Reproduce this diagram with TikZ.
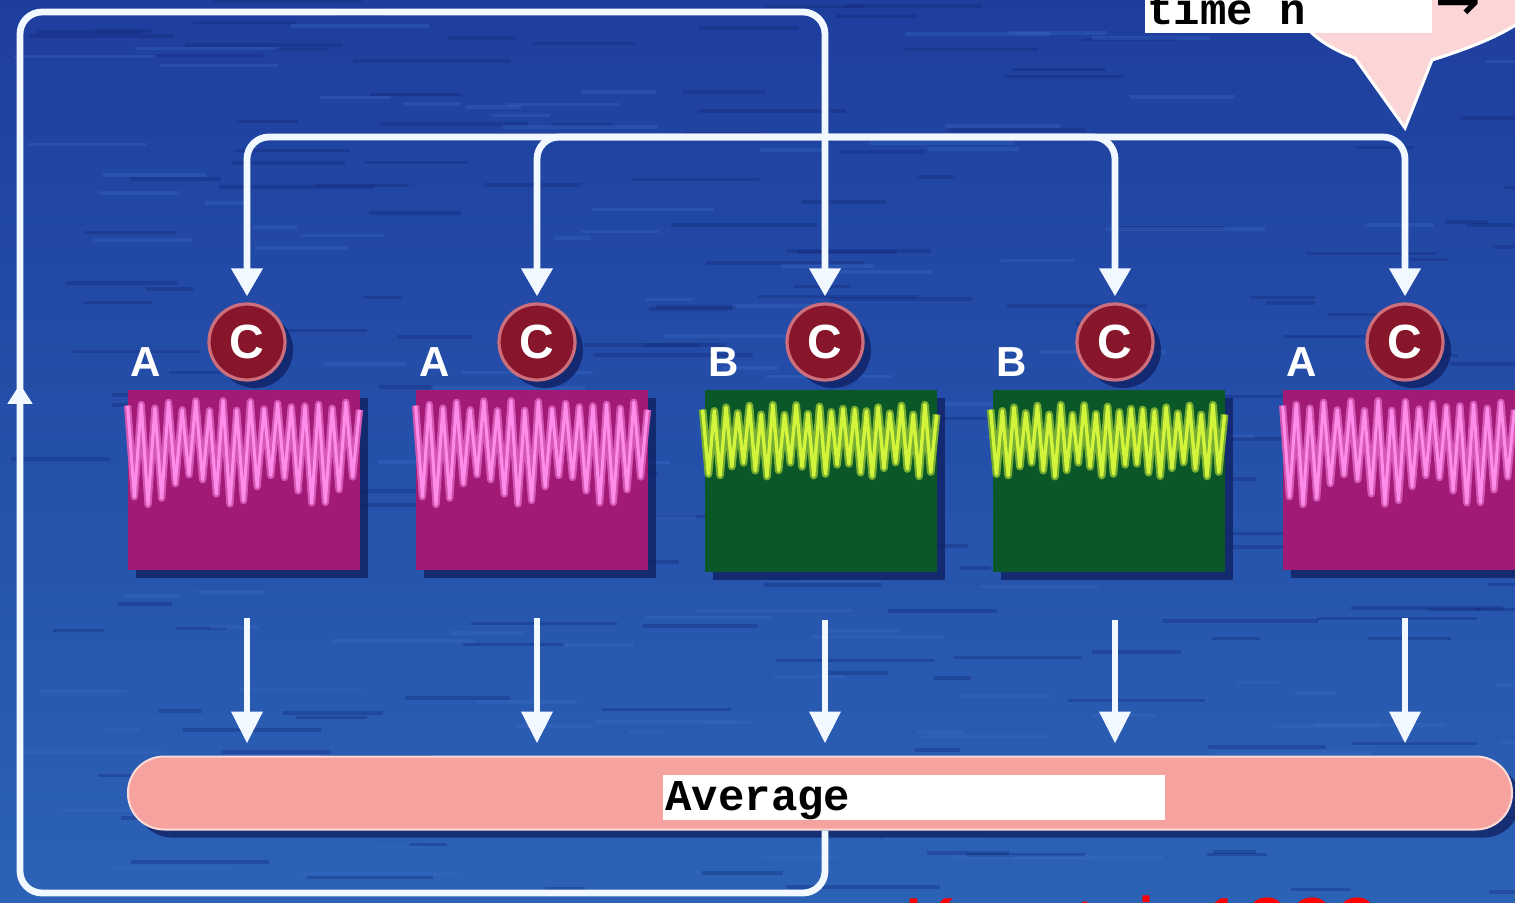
\documentclass[tikz,border=0pt]{standalone}
\usepackage{fontspec}
\setmainfont{Liberation Sans}
\newfontfamily\monob{Liberation Mono}
\newfontfamily\djv{DejaVu Sans}
\usetikzlibrary{arrows.meta,shadows}
\definecolor{bgtop}{RGB}{30,62,158}
\definecolor{bgbot}{RGB}{44,98,182}
\definecolor{bgdark}{RGB}{18,40,120}
\definecolor{bglight}{RGB}{60,110,200}
\definecolor{magbox}{RGB}{160,26,118}
\definecolor{grnbox}{RGB}{10,88,40}
\definecolor{pinkwave}{RGB}{255,140,232}
\definecolor{grnwave}{RGB}{210,245,60}
\definecolor{cred}{RGB}{135,22,42}
\definecolor{crim}{RGB}{205,110,125}
\definecolor{avgpink}{RGB}{246,162,158}
\definecolor{bubble}{RGB}{252,214,214}
\definecolor{wline}{RGB}{242,248,255}
\definecolor{shadowc}{RGB}{14,30,95}
\newcommand{\pinkwave}{%
  \draw[pinkwave!55!magbox, line width=3.6pt, line join=round] plot[samples at={0,...,34}] ({\x*6.82},{mod(\x,2)==0 ? 16+5*sin(\x*97) : 100+15*sin(\x*151)});
  \draw[pinkwave, line width=1.5pt, line join=round] plot[samples at={0,...,34}] ({\x*6.82},{mod(\x,2)==0 ? 16+5*sin(\x*97) : 100+15*sin(\x*151)});}
\newcommand{\greenwave}{%
  \draw[grnwave!55!grnbox, line width=3.8pt, line join=round] plot[samples at={0,...,40}] ({\x*5.85-2},{mod(\x,2)==0 ? 20+5*sin(\x*83) : 80+7*sin(\x*139)});
  \draw[grnwave, line width=1.7pt, line join=round] plot[samples at={0,...,40}] ({\x*5.85-2},{mod(\x,2)==0 ? 20+5*sin(\x*83) : 80+7*sin(\x*139)});}
\begin{document}
\begin{tikzpicture}[x=0.5pt,y=-0.5pt,
  wire/.style={draw=wline, line width=3.4pt, rounded corners=11pt},
  tipL/.style={-{Triangle[width=15pt,length=14pt]}},
  tipD/.style={-{Triangle[width=15pt,length=16pt]}},
  tipS/.style={-{Triangle[width=12pt,length=10pt]}},
  shad/.style={drop shadow={shadow xshift=4pt, shadow yshift=-4pt, fill=shadowc, opacity=0.75}},
  boxA/.style={fill=magbox, minimum width=116pt, minimum height=90pt, inner sep=0pt, shad},
  boxB/.style={fill=grnbox, minimum width=116pt, minimum height=91pt, inner sep=0pt, shad},
  cnode/.style={circle, fill=cred, draw=crim, line width=1.6pt, minimum size=38pt, inner sep=0pt,
     text=white, font=\bfseries\fontsize{24}{24}\selectfont, shad},
  lab/.style={text=white, inner sep=0pt, font=\bfseries\fontsize{21}{21}\selectfont},
  monotxt/.style={inner sep=0pt, font=\monob\bfseries\fontsize{22}{22}\selectfont}]
\useasboundingbox (0,0) rectangle (1515,903);
\clip (0,0) rectangle (1515,903);
% background
\shade[top color=bgtop, bottom color=bgbot] (0,0) rectangle (1515,903);
\pgfmathsetseed{42}
\foreach \i in {1,...,170}{
  \pgfmathsetmacro\sx{rnd*1515}
  \pgfmathsetmacro\sy{rnd*903}
  \pgfmathsetmacro\sl{30+rnd*130}
  \draw[bgdark, opacity=0.35, line width=1.8pt] (\sx,\sy) -- ++(\sl,0);
}
\foreach \i in {1,...,110}{
  \pgfmathsetmacro\sx{rnd*1515}
  \pgfmathsetmacro\sy{rnd*903}
  \pgfmathsetmacro\sl{30+rnd*130}
  \draw[bglight, opacity=0.3, line width=1.8pt] (\sx,\sy) -- ++(\sl,0);
}
% callout bubble
\draw[fill=bubble, draw=white, line width=1.5pt] (1290,-5) .. controls (1296,25) and (1320,45) .. (1355,58) -- (1405,128) -- (1432,60) .. controls (1470,48) and (1500,36) .. (1520,22) -- (1520,-5) -- cycle;
\node[fill=white, minimum width=143.5pt, minimum height=26.5pt, inner sep=0pt] (tbox) at (1288.5,6.5) {};
\node[monotxt, anchor=base west] (ttext) at (1147,25) {time n};
\node[inner sep=0pt, font=\djv\bfseries\fontsize{27}{27}\selectfont] (tarr) at (1458,5) {→};
% boxes
\node[boxA] (b1) at (244,480) {};
\node[boxA] (b2) at (532,480) {};
\node[boxB] (b3) at (821,481) {};
\node[boxB] (b4) at (1109,481) {};
\node[boxA] (b5) at (1399,480) {};
\begin{scope}[shift={(b1.north west)}]\pinkwave\end{scope}
\begin{scope}[shift={(b2.north west)}]\pinkwave\end{scope}
\begin{scope}[shift={(b3.north west)}]\greenwave\end{scope}
\begin{scope}[shift={(b4.north west)}]\greenwave\end{scope}
\begin{scope}[shift={(b5.north west)}]\pinkwave\end{scope}
% C circles
\node[cnode] (c1) at (247,342) {C};
\node[cnode] (c2) at (537,342) {C};
\node[cnode] (c3) at (825,342) {C};
\node[cnode] (c4) at (1115,342) {C};
\node[cnode] (c5) at (1405,342) {C};
% labels
\node[lab] (l1) at (146,362) {A};
\node[lab] (l2) at (435,362) {A};
\node[lab] (l3) at (724,362) {B};
\node[lab] (l4) at (1012,362) {B};
\node[lab] (l5) at (1302,362) {A};
% average bar
\node[fill=avgpink, draw=white!60!avgpink, line width=1pt, rounded corners=18pt, minimum width=692pt, minimum height=36.5pt, inner sep=0pt, shad] (avg) at (820,793) {};
\node[fill=white, minimum width=251pt, minimum height=22.5pt, inner sep=0pt] (abox) at (914,797.5) {};
\node[monotxt, anchor=base west] (atext) at (665,810) {Average};
% coordinates of the loop
\coordinate (hub) at (825,137);
\coordinate (lbr) at (825,893);
\coordinate (lbl) at (20,893);
\coordinate (ltl) at (20,12);
\coordinate (ltr) at (825,12);
\coordinate (upA) at (20,440);
\coordinate (upB) at (20,384);
% feedback loop
\draw[wire, tipL, shorten >=3pt] (avg.south -| c3) -- (lbr) -- (lbl) -- (ltl) -- (ltr) -- (c3.north);
\draw[wire, tipS] (upA) -- (upB);
% distribution bus
\draw[wire, tipL, shorten >=3pt] (hub) -| (c1.north);
\draw[wire, tipL, shorten >=3pt] (hub) -| (c2.north);
\draw[wire, tipL, shorten >=3pt] (hub) -| (c4.north);
\draw[wire, tipL, shorten >=3pt] (hub) -| (c5.north);
% arrows to average
\draw[wire, tipD, shorten <=24pt, shorten >=6pt] (b1.south -| c1) -- (avg.north -| c1);
\draw[wire, tipD, shorten <=24pt, shorten >=6pt] (b2.south -| c2) -- (avg.north -| c2);
\draw[wire, tipD, shorten <=24pt, shorten >=6pt] (b3.south -| c3) -- (avg.north -| c3);
\draw[wire, tipD, shorten <=24pt, shorten >=6pt] (b4.south -| c4) -- (avg.north -| c4);
\draw[wire, tipD, shorten <=24pt, shorten >=6pt] (b5.south -| c5) -- (avg.north -| c5);
% red reference text (cut by the lower edge)
\node[anchor=north west, inner sep=0pt, text=red, font=\fontsize{40.5}{40.5}\selectfont] (ref) at (903,895) {Kourtzi, 1999};
\end{tikzpicture}
\end{document}
